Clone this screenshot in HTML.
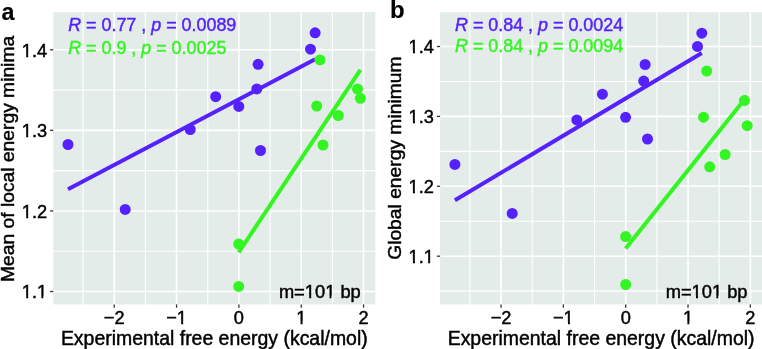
<!DOCTYPE html>
<html><head><meta charset="utf-8"><style>
html,body{margin:0;padding:0;background:#fff;}
svg{display:block;font-family:"Liberation Sans",sans-serif;filter:blur(0.35px);}
text{fill:#000;stroke:#000;stroke-width:0.45px;}
</style></head><body>
<svg width="762" height="349" viewBox="0 0 762 349">
<rect width="762" height="349" fill="#fff"/>
<rect x="53.3" y="12.2" width="322" height="292.2" fill="#E4ECE9"/>
<line x1="53.3" x2="375.3" y1="251.22" y2="251.22" stroke="#fff" stroke-width="1.1"/>
<line x1="53.3" x2="375.3" y1="170.65" y2="170.65" stroke="#fff" stroke-width="1.1"/>
<line x1="53.3" x2="375.3" y1="90.07" y2="90.07" stroke="#fff" stroke-width="1.1"/>
<line x1="83.08" x2="83.08" y1="12.2" y2="304.4" stroke="#fff" stroke-width="1.1"/>
<line x1="145.41" x2="145.41" y1="12.2" y2="304.4" stroke="#fff" stroke-width="1.1"/>
<line x1="207.74" x2="207.74" y1="12.2" y2="304.4" stroke="#fff" stroke-width="1.1"/>
<line x1="270.06" x2="270.06" y1="12.2" y2="304.4" stroke="#fff" stroke-width="1.1"/>
<line x1="332.39" x2="332.39" y1="12.2" y2="304.4" stroke="#fff" stroke-width="1.1"/>
<line x1="53.3" x2="375.3" y1="291.5" y2="291.5" stroke="#fff" stroke-width="1.6"/>
<line x1="53.3" x2="375.3" y1="210.93" y2="210.93" stroke="#fff" stroke-width="1.6"/>
<line x1="53.3" x2="375.3" y1="130.36" y2="130.36" stroke="#fff" stroke-width="1.6"/>
<line x1="53.3" x2="375.3" y1="49.79" y2="49.79" stroke="#fff" stroke-width="1.6"/>
<line x1="114.24" x2="114.24" y1="12.2" y2="304.4" stroke="#fff" stroke-width="1.6"/>
<line x1="176.57" x2="176.57" y1="12.2" y2="304.4" stroke="#fff" stroke-width="1.6"/>
<line x1="238.9" x2="238.9" y1="12.2" y2="304.4" stroke="#fff" stroke-width="1.6"/>
<line x1="301.23" x2="301.23" y1="12.2" y2="304.4" stroke="#fff" stroke-width="1.6"/>
<line x1="363.56" x2="363.56" y1="12.2" y2="304.4" stroke="#fff" stroke-width="1.6"/>
<line x1="68" y1="189.23" x2="315.1" y2="59.23" stroke="#5522FF" stroke-width="4.0"/>
<line x1="238.7" y1="252.41" x2="360.4" y2="69.96" stroke="#33F522" stroke-width="4.0"/>
<circle cx="68" cy="144.5" r="5.5" fill="#5522FF"/>
<circle cx="125.2" cy="209.4" r="5.5" fill="#5522FF"/>
<circle cx="190.2" cy="129.5" r="5.5" fill="#5522FF"/>
<circle cx="215.7" cy="96.7" r="5.5" fill="#5522FF"/>
<circle cx="238.8" cy="106.4" r="5.5" fill="#5522FF"/>
<circle cx="256.8" cy="88.9" r="5.5" fill="#5522FF"/>
<circle cx="258.1" cy="64.3" r="5.5" fill="#5522FF"/>
<circle cx="260.5" cy="150.5" r="5.5" fill="#5522FF"/>
<circle cx="310.5" cy="49.2" r="5.5" fill="#5522FF"/>
<circle cx="315.1" cy="32.8" r="5.5" fill="#5522FF"/>
<circle cx="238.7" cy="244" r="5.5" fill="#33F522"/>
<circle cx="238.7" cy="286.4" r="5.5" fill="#33F522"/>
<circle cx="320" cy="59.9" r="5.5" fill="#33F522"/>
<circle cx="316.7" cy="106" r="5.5" fill="#33F522"/>
<circle cx="323" cy="145" r="5.5" fill="#33F522"/>
<circle cx="338.3" cy="115.6" r="5.5" fill="#33F522"/>
<circle cx="357.5" cy="89" r="5.5" fill="#33F522"/>
<circle cx="360.4" cy="98.3" r="5.5" fill="#33F522"/>
<line x1="50.1" x2="53.3" y1="291.5" y2="291.5" stroke="#333" stroke-width="1.3"/>
<text x="47.1" y="298.3" font-size="18.2" text-anchor="end">1.1</text>
<line x1="50.1" x2="53.3" y1="210.93" y2="210.93" stroke="#333" stroke-width="1.3"/>
<text x="47.1" y="217.73" font-size="18.2" text-anchor="end">1.2</text>
<line x1="50.1" x2="53.3" y1="130.36" y2="130.36" stroke="#333" stroke-width="1.3"/>
<text x="47.1" y="137.16" font-size="18.2" text-anchor="end">1.3</text>
<line x1="50.1" x2="53.3" y1="49.79" y2="49.79" stroke="#333" stroke-width="1.3"/>
<text x="47.1" y="56.59" font-size="18.2" text-anchor="end">1.4</text>
<line x1="114.24" x2="114.24" y1="304.4" y2="307.7" stroke="#333" stroke-width="1.3"/>
<text x="114.24" y="323.6" font-size="18.2" text-anchor="middle">−2</text>
<line x1="176.57" x2="176.57" y1="304.4" y2="307.7" stroke="#333" stroke-width="1.3"/>
<text x="176.57" y="323.6" font-size="18.2" text-anchor="middle">−1</text>
<line x1="238.9" x2="238.9" y1="304.4" y2="307.7" stroke="#333" stroke-width="1.3"/>
<text x="238.9" y="323.6" font-size="18.2" text-anchor="middle">0</text>
<line x1="301.23" x2="301.23" y1="304.4" y2="307.7" stroke="#333" stroke-width="1.3"/>
<text x="301.23" y="323.6" font-size="18.2" text-anchor="middle">1</text>
<line x1="363.56" x2="363.56" y1="304.4" y2="307.7" stroke="#333" stroke-width="1.3"/>
<text x="363.56" y="323.6" font-size="18.2" text-anchor="middle">2</text>
<text x="214.3" y="345" font-size="19.45" text-anchor="middle">Experimental free energy (kcal/mol)</text>
<text transform="translate(14.2,158.9) rotate(-90)" font-size="19.25" text-anchor="middle">Mean of local energy minima</text>
<text x="68.2" y="30.8" font-size="17.9" style="fill:#5522FF;stroke:#5522FF" xml:space="preserve"><tspan font-style="italic">R</tspan> = 0.77 , <tspan font-style="italic">p</tspan> = 0.0089</text>
<text x="68.2" y="54.2" font-size="17.9" style="fill:#33F522;stroke:#33F522" xml:space="preserve"><tspan font-style="italic">R</tspan> = 0.9 , <tspan font-style="italic">p</tspan> = 0.0025</text>
<text x="278.9" y="297.8" font-size="18.3">m=101 bp</text>
<text x="1.5" y="19.6" font-size="23.3" font-weight="bold" style="stroke-width:0.15px">a</text>
<rect x="440.1" y="12.2" width="322" height="292.2" fill="#E4ECE9"/>
<line x1="440.1" x2="762.1" y1="291.15" y2="291.15" stroke="#fff" stroke-width="1.1"/>
<line x1="440.1" x2="762.1" y1="221.25" y2="221.25" stroke="#fff" stroke-width="1.1"/>
<line x1="440.1" x2="762.1" y1="151.35" y2="151.35" stroke="#fff" stroke-width="1.1"/>
<line x1="440.1" x2="762.1" y1="81.45" y2="81.45" stroke="#fff" stroke-width="1.1"/>
<line x1="469.88" x2="469.88" y1="12.2" y2="304.4" stroke="#fff" stroke-width="1.1"/>
<line x1="532.21" x2="532.21" y1="12.2" y2="304.4" stroke="#fff" stroke-width="1.1"/>
<line x1="594.54" x2="594.54" y1="12.2" y2="304.4" stroke="#fff" stroke-width="1.1"/>
<line x1="656.87" x2="656.87" y1="12.2" y2="304.4" stroke="#fff" stroke-width="1.1"/>
<line x1="719.2" x2="719.2" y1="12.2" y2="304.4" stroke="#fff" stroke-width="1.1"/>
<line x1="440.1" x2="762.1" y1="256.2" y2="256.2" stroke="#fff" stroke-width="1.6"/>
<line x1="440.1" x2="762.1" y1="186.3" y2="186.3" stroke="#fff" stroke-width="1.6"/>
<line x1="440.1" x2="762.1" y1="116.4" y2="116.4" stroke="#fff" stroke-width="1.6"/>
<line x1="440.1" x2="762.1" y1="46.5" y2="46.5" stroke="#fff" stroke-width="1.6"/>
<line x1="501.04" x2="501.04" y1="12.2" y2="304.4" stroke="#fff" stroke-width="1.6"/>
<line x1="563.37" x2="563.37" y1="12.2" y2="304.4" stroke="#fff" stroke-width="1.6"/>
<line x1="625.7" x2="625.7" y1="12.2" y2="304.4" stroke="#fff" stroke-width="1.6"/>
<line x1="688.03" x2="688.03" y1="12.2" y2="304.4" stroke="#fff" stroke-width="1.6"/>
<line x1="750.36" x2="750.36" y1="12.2" y2="304.4" stroke="#fff" stroke-width="1.6"/>
<line x1="454.9" y1="200.28" x2="701.8" y2="53.05" stroke="#5522FF" stroke-width="4.0"/>
<line x1="625.6" y1="248.39" x2="747.2" y2="96.11" stroke="#33F522" stroke-width="4.0"/>
<circle cx="454.9" cy="164.4" r="5.5" fill="#5522FF"/>
<circle cx="512.2" cy="213.4" r="5.5" fill="#5522FF"/>
<circle cx="576.8" cy="119.9" r="5.5" fill="#5522FF"/>
<circle cx="602.4" cy="94.2" r="5.5" fill="#5522FF"/>
<circle cx="625.6" cy="117.3" r="5.5" fill="#5522FF"/>
<circle cx="643.7" cy="81.1" r="5.5" fill="#5522FF"/>
<circle cx="645.1" cy="64.5" r="5.5" fill="#5522FF"/>
<circle cx="647.5" cy="139" r="5.5" fill="#5522FF"/>
<circle cx="697.5" cy="46.4" r="5.5" fill="#5522FF"/>
<circle cx="701.8" cy="33.2" r="5.5" fill="#5522FF"/>
<circle cx="625.6" cy="236.6" r="5.5" fill="#33F522"/>
<circle cx="625.7" cy="284.5" r="5.5" fill="#33F522"/>
<circle cx="706.7" cy="71" r="5.5" fill="#33F522"/>
<circle cx="703.5" cy="117.2" r="5.5" fill="#33F522"/>
<circle cx="709.7" cy="166.8" r="5.5" fill="#33F522"/>
<circle cx="725.1" cy="154.5" r="5.5" fill="#33F522"/>
<circle cx="744.4" cy="100.6" r="5.5" fill="#33F522"/>
<circle cx="747.2" cy="125.7" r="5.5" fill="#33F522"/>
<line x1="436.9" x2="440.1" y1="256.2" y2="256.2" stroke="#333" stroke-width="1.3"/>
<text x="433.9" y="263" font-size="18.2" text-anchor="end">1.1</text>
<line x1="436.9" x2="440.1" y1="186.3" y2="186.3" stroke="#333" stroke-width="1.3"/>
<text x="433.9" y="193.1" font-size="18.2" text-anchor="end">1.2</text>
<line x1="436.9" x2="440.1" y1="116.4" y2="116.4" stroke="#333" stroke-width="1.3"/>
<text x="433.9" y="123.2" font-size="18.2" text-anchor="end">1.3</text>
<line x1="436.9" x2="440.1" y1="46.5" y2="46.5" stroke="#333" stroke-width="1.3"/>
<text x="433.9" y="53.3" font-size="18.2" text-anchor="end">1.4</text>
<line x1="501.04" x2="501.04" y1="304.4" y2="307.7" stroke="#333" stroke-width="1.3"/>
<text x="501.04" y="323.6" font-size="18.2" text-anchor="middle">−2</text>
<line x1="563.37" x2="563.37" y1="304.4" y2="307.7" stroke="#333" stroke-width="1.3"/>
<text x="563.37" y="323.6" font-size="18.2" text-anchor="middle">−1</text>
<line x1="625.7" x2="625.7" y1="304.4" y2="307.7" stroke="#333" stroke-width="1.3"/>
<text x="625.7" y="323.6" font-size="18.2" text-anchor="middle">0</text>
<line x1="688.03" x2="688.03" y1="304.4" y2="307.7" stroke="#333" stroke-width="1.3"/>
<text x="688.03" y="323.6" font-size="18.2" text-anchor="middle">1</text>
<line x1="750.36" x2="750.36" y1="304.4" y2="307.7" stroke="#333" stroke-width="1.3"/>
<text x="750.36" y="323.6" font-size="18.2" text-anchor="middle">2</text>
<text x="601.1" y="345" font-size="19.45" text-anchor="middle">Experimental free energy (kcal/mol)</text>
<text transform="translate(401.4,158.2) rotate(-90)" font-size="19.25" text-anchor="middle">Global energy minimum</text>
<text x="455" y="30.5" font-size="17.9" style="fill:#5522FF;stroke:#5522FF" xml:space="preserve"><tspan font-style="italic">R</tspan> = 0.84 , <tspan font-style="italic">p</tspan> = 0.0024</text>
<text x="455" y="51.5" font-size="17.9" style="fill:#33F522;stroke:#33F522" xml:space="preserve"><tspan font-style="italic">R</tspan> = 0.84 , <tspan font-style="italic">p</tspan> = 0.0094</text>
<text x="665.7" y="297.8" font-size="18.3">m=101 bp</text>
<text x="389.9" y="17.9" font-size="24.0" font-weight="bold" style="stroke-width:0.15px">b</text>
<rect x="22.25" y="295.74" width="3.93" height="3.96" fill="#fff"/>
<rect x="28.19" y="295.74" width="3.66" height="3.96" fill="#fff"/>
<rect x="37.4" y="295.74" width="3.93" height="3.96" fill="#fff"/>
<rect x="43.34" y="295.74" width="3.66" height="3.96" fill="#fff"/>
<rect x="22.25" y="215.74" width="3.93" height="3.96" fill="#fff"/>
<rect x="28.19" y="215.74" width="3.66" height="3.96" fill="#fff"/>
<rect x="22.25" y="134.74" width="3.93" height="3.96" fill="#fff"/>
<rect x="28.19" y="134.74" width="3.66" height="3.96" fill="#fff"/>
<rect x="22.25" y="54.74" width="3.93" height="3.96" fill="#fff"/>
<rect x="28.19" y="54.74" width="3.66" height="3.96" fill="#fff"/>
<rect x="177.25" y="321.74" width="3.93" height="3.96" fill="#fff"/>
<rect x="183.19" y="321.74" width="3.66" height="3.96" fill="#fff"/>
<rect x="296.61" y="321.74" width="3.93" height="3.96" fill="#fff"/>
<rect x="302.55" y="321.74" width="3.66" height="3.96" fill="#fff"/>
<rect x="305.24" y="295.73" width="3.96" height="3.97" fill="#E4ECE9"/>
<rect x="311.21" y="295.73" width="3.68" height="3.97" fill="#E4ECE9"/>
<rect x="325.58" y="295.73" width="3.96" height="3.97" fill="#E4ECE9"/>
<rect x="331.55" y="295.73" width="3.68" height="3.97" fill="#E4ECE9"/>
<line x1="332.39" x2="332.39" y1="295.73" y2="299.7" stroke="#fff" stroke-width="1.1"/>
<rect x="409.05" y="260.74" width="3.93" height="3.96" fill="#fff"/>
<rect x="414.99" y="260.74" width="3.66" height="3.96" fill="#fff"/>
<rect x="424.2" y="260.74" width="3.93" height="3.96" fill="#fff"/>
<rect x="430.14" y="260.74" width="3.66" height="3.96" fill="#fff"/>
<rect x="409.05" y="190.74" width="3.93" height="3.96" fill="#fff"/>
<rect x="414.99" y="190.74" width="3.66" height="3.96" fill="#fff"/>
<rect x="409.05" y="120.74" width="3.93" height="3.96" fill="#fff"/>
<rect x="414.99" y="120.74" width="3.66" height="3.96" fill="#fff"/>
<rect x="409.05" y="50.74" width="3.93" height="3.96" fill="#fff"/>
<rect x="414.99" y="50.74" width="3.66" height="3.96" fill="#fff"/>
<rect x="564.05" y="321.74" width="3.93" height="3.96" fill="#fff"/>
<rect x="569.99" y="321.74" width="3.66" height="3.96" fill="#fff"/>
<rect x="683.41" y="321.74" width="3.93" height="3.96" fill="#fff"/>
<rect x="689.35" y="321.74" width="3.66" height="3.96" fill="#fff"/>
<rect x="692.04" y="295.73" width="3.96" height="3.97" fill="#E4ECE9"/>
<rect x="698.01" y="295.73" width="3.68" height="3.97" fill="#E4ECE9"/>
<rect x="712.38" y="295.73" width="3.96" height="3.97" fill="#E4ECE9"/>
<rect x="718.35" y="295.73" width="3.68" height="3.97" fill="#E4ECE9"/>
<line x1="719.2" x2="719.2" y1="295.73" y2="299.7" stroke="#fff" stroke-width="1.1"/>
</svg>
</body></html>
